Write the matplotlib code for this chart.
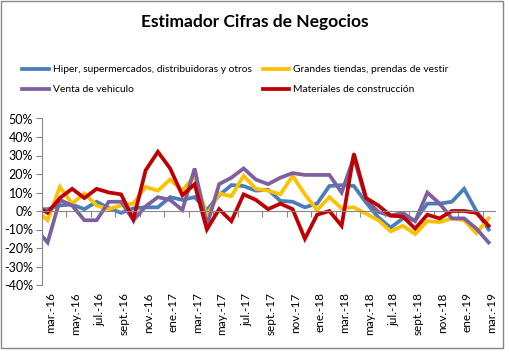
import matplotlib
matplotlib.use("Agg")
import matplotlib.pyplot as plt
import matplotlib.transforms as mtransforms
import numpy as np

# months: feb.-16 (partially visible at left edge) through mar.-19
months = ["feb.-16",
          "mar.-16", "abr.-16", "may.-16", "jun.-16", "jul.-16", "ago.-16", "sept.-16", "oct.-16",
          "nov.-16", "dic.-16", "ene.-17", "feb.-17", "mar.-17", "abr.-17", "may.-17", "jun.-17",
          "jul.-17", "ago.-17", "sept.-17", "oct.-17", "nov.-17", "dic.-17", "ene.-18", "feb.-18",
          "mar.-18", "abr.-18", "may.-18", "jun.-18", "jul.-18", "ago.-18", "sept.-18", "oct.-18",
          "nov.-18", "dic.-18", "ene.-19", "feb.-19", "mar.-19"]

hiper = [1, 1, 3, 3.5, 1, 5, 1.5, -1, 1.5, 2, 2, 7.5, 6, 7.5, 0.5, 8.5, 14, 13.5, 11, 11.5,
         5.5, 5, 2, 4, 13.5, 14, 13.5, 4.5, -3.5, -9, -4, -5, 4, 4, 5, 12, 0, -10]
grandes = [1, -5, 13, 4, 9.5, 3, 1, 3, 4, 13, 11, 17, 11, 19, -2.5, 9.5, 8, 19, 12, 11,
           9, 19, 9, 0.5, 7.5, 1.5, 2, -1.5, -5, -11, -8, -12.5, -5.5, -6, -4, -5, -12, -4]
venta = [-9.5, -17, 6, 3, -5, -5, 5, 5, -5, 2.5, 7.5, 6, 0.5, 23, -8, 14.5, 18, 23, 17, 14.5,
         18, 20.5, 19.5, 19.5, 19.5, 10, 29, 6, -0.5, -2.5, -1, -5.5, 10, 4, -4, -4, -9.5, -17]
materiales = [2.8, -1, 7, 12, 7, 12, 10, 9, -4.5, 22, 32, 23, 8.5, 14.5, -10, 1, -5.5, 9, 6, 1,
              4, 1, -15, -2, 0, -8, 31, 7, 3, -2.5, -3, -9.5, -2, -4, 0, 0, -1, -8]

series_names = ["Hiper, supermercados, distribuidoras y otros",
                "Grandes tiendas, prendas de vestir",
                "Venta de vehiculo",
                "Materiales de construcción"]
colors = ["#4A7EBB", "#FFC000", "#7F609F", "#C00000"]

yticks = [-40, -30, -20, -10, 0, 10, 20, 30, 40, 50]

plt.rcParams['font.family'] = ['Lato', 'DejaVu Sans']

fig = plt.figure(figsize=(5.09, 3.56), dpi=100)
ax = fig.add_axes([41.5 / 509, 1 - 285 / 356, (494.75 - 41.5) / 509, (285 - 118.5) / 356])

x = np.arange(len(months)) - 1  # index 0 = mar.-16
data = [hiper, grandes, venta, materiales]
lines = []
for vals, c, name in zip(data, colors, series_names):
    ln, = ax.plot(x, vals, color=c, lw=2.7, solid_joinstyle='miter', label=name, clip_on=True)
    lines.append(ln)

ax.set_xlim(-0.5, len(months) - 1.5)
ax.set_ylim(-40, 50)
ax.set_yticks(yticks)
ax.set_yticklabels([f"{v}%" for v in yticks], fontsize=9)

gray = "#868686"
for s in ["top", "right"]:
    ax.spines[s].set_visible(False)
ax.spines["left"].set_color(gray)
ax.spines["bottom"].set_color(gray)
ax.spines["bottom"].set_position(("data", 0))
ax.tick_params(axis="y", direction="out", length=4, color=gray, pad=2)

# x tick marks every 2 months on the zero line
ax.set_xticks(np.arange(-0.5, len(months) - 1.5, 2))
ax.set_xticklabels([])
ax.tick_params(axis="x", direction="out", length=4, color=gray)

# category labels at the bottom of the plot area
offset = mtransforms.ScaledTranslation(3 / 100, 0, fig.dpi_scale_trans)
trans = ax.get_xaxis_transform() + offset
for i in range(1, len(months), 2):
    ax.text(x[i], -0.045, months[i], transform=trans, rotation=90,
            ha="center", va="top", fontsize=8.5)

# title
fig.text(255 / 509, 1 - 22 / 356, "Estimador Cifras de Negocios", ha="center", va="center",
         fontsize=12.5, fontweight="bold")

# legend
order = [0, 2, 1, 3]
leg = fig.legend([lines[i] for i in order], [series_names[i] for i in order],
                 loc="upper left", bbox_to_anchor=(22 / 509, 1 - 65 / 356), ncol=2,
                 frameon=False, fontsize=7.4, handlelength=2.6, handletextpad=0.4,
                 columnspacing=1.05, labelspacing=1.07, borderaxespad=0, borderpad=0)

# chart border
fig.patches.append(plt.Rectangle((1 / 509, 1 - 348 / 356), 502 / 509, 347 / 356,
                                 transform=fig.transFigure, fill=False,
                                 edgecolor=gray, lw=1))

fig.savefig("out.png", dpi=100)
